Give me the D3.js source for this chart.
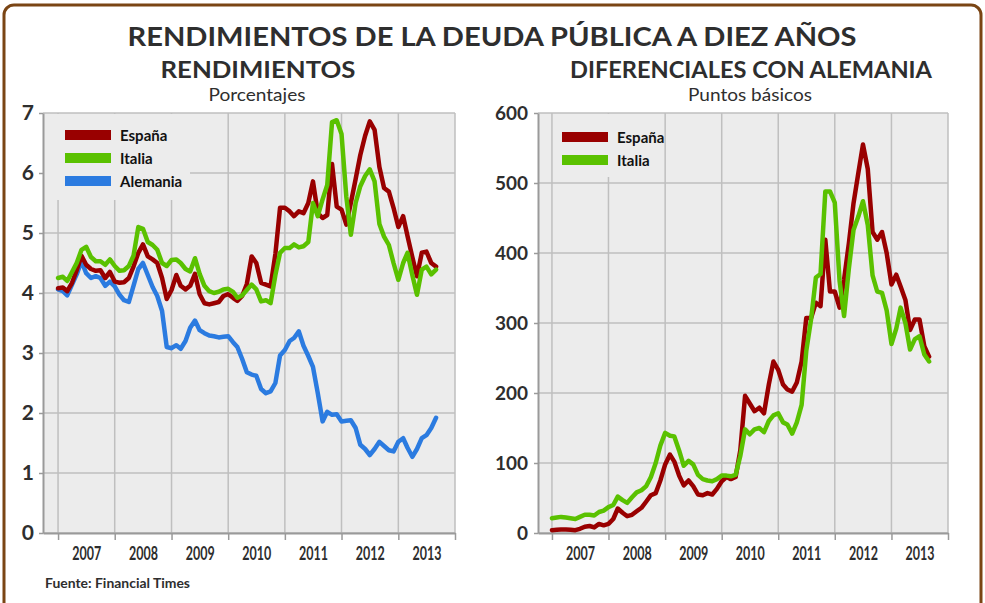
<!DOCTYPE html>
<html>
<head>
<meta charset="utf-8">
<script src="https://cdn.jsdelivr.net/npm/d3@7"></script>
<style>
  body { margin: 0; background: #fff; }
  svg  { display: block; font-family: Lato, "Open Sans", sans-serif; }
</style>
</head>
<body>
<svg id="chart" width="985" height="603"></svg>
<script>
'use strict';

// Monthly observations, Jan 2007 .. Sep 2013 (81 months)
const FIRST_MONTH = new Date(2007, 0, 1);
const N_MONTHS    = 81;

const YEAR_LABELS = ['2007', '2008', '2009', '2010', '2011', '2012', '2013'];
const LEFT_TICKS  = [0, 1, 2, 3, 4, 5, 6, 7];
const RIGHT_TICKS = [0, 100, 200, 300, 400, 500, 600];

// Rendimientos, %
const espanaYield = [
  4.08, 4.09, 4.03, 4.17, 4.38, 4.62, 4.47, 4.40, 4.37, 4.38, 4.25, 4.35,
  4.19, 4.17, 4.18, 4.25, 4.44, 4.67, 4.81, 4.61, 4.56, 4.50, 4.25, 3.90,
  4.05, 4.30, 4.12, 4.06, 4.12, 4.32, 3.98, 3.83, 3.81, 3.83, 3.85, 3.95,
  3.98, 3.92, 3.87, 3.95, 4.15, 4.61, 4.50, 4.17, 4.14, 4.11, 4.65, 5.42,
  5.42, 5.36, 5.28, 5.36, 5.33, 5.50, 5.86, 5.33, 5.25, 5.30, 6.15, 5.44,
  5.39, 5.14, 5.50, 5.90, 6.30, 6.62, 6.86, 6.72, 6.10, 5.75, 5.69, 5.42,
  5.10, 5.28, 4.95, 4.60, 4.28, 4.67, 4.69, 4.50, 4.44
];
const italiaYield = [
  4.25, 4.27, 4.20, 4.35, 4.50, 4.72, 4.77, 4.60, 4.53, 4.53, 4.47, 4.56,
  4.45, 4.37, 4.38, 4.45, 4.62, 5.10, 5.07, 4.85, 4.80, 4.72, 4.50, 4.45,
  4.55, 4.56, 4.50, 4.40, 4.36, 4.58, 4.32, 4.12, 4.03, 4.00, 4.02, 4.06,
  4.07, 4.02, 3.92, 3.96, 4.05, 4.14, 4.06, 3.86, 3.88, 3.83, 4.30, 4.67,
  4.75, 4.75, 4.81, 4.76, 4.78, 4.85, 5.50, 5.28, 5.56, 5.80, 6.85, 6.88,
  6.65, 5.60, 4.97, 5.50, 5.78, 5.95, 6.06, 5.86, 5.15, 4.94, 4.80, 4.50,
  4.22, 4.50, 4.67, 4.30, 3.97, 4.39, 4.44, 4.31, 4.39
];
const alemaniaYield = [
  4.06, 4.03, 3.96, 4.14, 4.31, 4.53, 4.33, 4.25, 4.28, 4.25, 4.12, 4.19,
  4.11, 3.97, 3.88, 3.85, 4.12, 4.40, 4.50, 4.30, 4.10, 3.95, 3.70, 3.10,
  3.08, 3.13, 3.07, 3.20, 3.42, 3.54, 3.38, 3.33, 3.29, 3.28, 3.26, 3.27,
  3.28, 3.18, 3.10, 2.90, 2.68, 2.64, 2.62, 2.40, 2.33, 2.36, 2.50, 2.96,
  3.05, 3.20, 3.25, 3.36, 3.12, 2.95, 2.77, 2.33, 1.86, 2.02, 1.97, 1.98,
  1.86, 1.87, 1.88, 1.75, 1.47, 1.40, 1.30, 1.40, 1.52, 1.45, 1.38, 1.36,
  1.52, 1.58, 1.42, 1.27, 1.40, 1.58, 1.63, 1.75, 1.92
];

// Diferenciales con Alemania, puntos básicos
const espanaSpread = [
    4, 4.5,   5,   5, 4.5,   4,   6,   9,  10,   8,  13,  11,
   13,  20,  35,  29,  24,  26,  31,  36,  45,  54,  57,  75,
   98, 112, 102,  82,  68,  75,  67,  55,  54,  57,  55,  63,
   74,  80,  77,  80, 118, 196, 185, 174, 179, 171, 212, 245,
  233, 212, 205, 202, 215, 245, 307, 307, 329, 324, 419, 345,
  345, 322, 362, 414, 471, 514, 555, 520, 430, 419, 430, 400,
  355, 369, 352, 333, 290, 305, 305, 267, 252
];
const italiaSpread = [
   21,  22,  23,  22,  21,  20,  23,  26,  26,  25,  30,  32,
   37,  40,  52,  47,  43,  51,  58,  61,  67,  80, 100, 125,
  143, 139, 138, 118,  96, 103,  98,  83,  77,  75,  74,  77,
   82,  82,  81,  83, 110, 148, 141, 148, 150, 144, 160, 168,
  171, 158, 155, 142, 158, 183, 260, 305, 365, 370, 488, 488,
  472, 360, 310, 378, 433, 452, 474, 440, 368, 345, 343, 318,
  270, 292, 322, 300, 262, 277, 281, 255, 245
];

const COLORS = {
  espana:   '#990000',
  italia:   '#5ac100',
  alemania: '#2b7be0',
};
const PLOT_BG   = '#ececec';
const GRID      = '#bfbfbf';
const AXIS      = '#9a9a9a';
const TEXT      = '#2e2e2e';

const months     = d3.timeMonth.range(FIRST_MONTH, d3.timeMonth.offset(FIRST_MONTH, N_MONTHS));
const yearStarts = d3.range(2007, 2015).map(y => new Date(y, 0, 1));
const yearMids   = YEAR_LABELS.map(y => new Date(+y, 6, 1));

const svg = d3.select('#chart');

// Frame
svg.append('rect')
  .attr('x', 4).attr('y', 5)
  .attr('width', 977).attr('height', 640)
  .attr('rx', 10)
  .attr('fill', 'none')
  .attr('stroke', '#7a4514')
  .attr('stroke-width', 3);

// Titles
function label(txt, x, y, size, weight, len) {
  svg.append('text')
    .attr('x', x).attr('y', y)
    .attr('text-anchor', 'middle')
    .attr('font-size', size)
    .attr('font-weight', weight)
    .attr('fill', TEXT)
    .attr('textLength', len)
    .attr('lengthAdjust', 'spacingAndGlyphs')
    .text(txt);
}
label('RENDIMIENTOS DE LA DEUDA PÚBLICA A DIEZ AÑOS', 492, 46, 26, 700, 729);
label('RENDIMIENTOS', 258, 78, 22, 700, 195);
label('DIFERENCIALES CON ALEMANIA', 751, 78, 22, 700, 362);
label('Porcentajes', 257, 101, 17, 400, 97);
label('Puntos básicos', 750, 101, 17, 400, 124);

svg.append('text')
  .attr('x', 45).attr('y', 588)
  .attr('font-size', 14).attr('font-weight', 700)
  .attr('fill', TEXT)
  .attr('textLength', 145).attr('lengthAdjust', 'spacingAndGlyphs')
  .text('Fuente: Financial Times');

function panel(cfg) {
  const x = d3.scaleTime().domain(cfg.xDomain).range([cfg.left, cfg.right]);
  const y = d3.scaleLinear().domain([0, d3.max(cfg.yTicks)]).range([533, 113]);
  const g = svg.append('g');

  g.append('rect')
    .attr('x', cfg.left).attr('y', 113)
    .attr('width', cfg.right - cfg.left).attr('height', 420)
    .attr('fill', PLOT_BG);

  // grid
  g.append('g').selectAll('line').data(cfg.yTicks).join('line')
    .attr('x1', cfg.left).attr('x2', cfg.right)
    .attr('y1', d => y(d)).attr('y2', d => y(d))
    .attr('stroke', GRID).attr('stroke-width', 1.5);
  g.append('g').selectAll('line').data(yearStarts).join('line')
    .attr('x1', d => x(d)).attr('x2', d => x(d))
    .attr('y1', 113).attr('y2', 533)
    .attr('stroke', GRID).attr('stroke-width', 1.5);

  // legend (box hides the grid behind it)
  const lg = g.append('g');
  lg.append('rect')
    .attr('x', cfg.legendBox[0]).attr('y', 114)
    .attr('width', cfg.legendBox[1] - cfg.legendBox[0])
    .attr('height', cfg.legendBox[2] - 114)
    .attr('fill', PLOT_BG);
  cfg.series.forEach((s, i) => {
    const cy = cfg.legendY + i * cfg.legendStep;
    lg.append('rect')
      .attr('x', cfg.legendX).attr('y', cy - 5)
      .attr('width', 46).attr('height', 10)
      .attr('fill', COLORS[s.key]);
    lg.append('text')
      .attr('x', cfg.legendX + 55).attr('y', cy + 5.5)
      .attr('font-size', 15).attr('font-weight', 700)
      .attr('fill', '#111')
      .text(s.name);
  });

  // axes
  const yAxis = g.append('g')
    .attr('transform', `translate(${cfg.left},0)`)
    .call(d3.axisLeft(y).tickValues(cfg.yTicks).tickFormat(d3.format('d'))
      .tickSize(4).tickSizeOuter(0).tickPadding(cfg.yPad));
  yAxis.select('.domain').attr('stroke', AXIS).attr('stroke-width', 2);
  yAxis.selectAll('.tick line').attr('stroke', AXIS).attr('stroke-width', 1.5);
  yAxis.selectAll('.tick text')
    .attr('font-size', cfg.yFont).attr('font-weight', 700)
    .attr('font-family', 'Lato, sans-serif')
    .attr('fill', TEXT);

  const xAxis = g.append('g')
    .attr('transform', 'translate(0,533)')
    .call(d3.axisBottom(x).tickValues(yearStarts).tickSize(7).tickSizeOuter(0).tickFormat(''));
  xAxis.select('.domain').attr('stroke', AXIS).attr('stroke-width', 2);
  xAxis.selectAll('.tick line').attr('stroke', AXIS).attr('stroke-width', 1.5);

  const xLab = g.append('g')
    .attr('transform', 'translate(0,533)')
    .call(d3.axisBottom(x).tickValues(yearMids).tickSize(0).tickPadding(14)
      .tickFormat((d, i) => YEAR_LABELS[i]));
  xLab.select('.domain').remove();
  xLab.selectAll('.tick text')
    .attr('font-size', 19).attr('font-weight', 700)
    .attr('font-family', 'Lato, sans-serif')
    .attr('fill', TEXT)
    .attr('textLength', 29).attr('lengthAdjust', 'spacingAndGlyphs');

  // lines
  const line = d3.line()
    .x((d, i) => x(months[i]))
    .y(d => y(d));
  cfg.series.slice().sort((a, b) => a.z - b.z).forEach(s => {
    g.append('path')
      .datum(s.values)
      .attr('d', line)
      .attr('fill', 'none')
      .attr('stroke', COLORS[s.key])
      .attr('stroke-width', 4.5)
      .attr('stroke-linejoin', 'round')
      .attr('stroke-linecap', 'round');
  });
}

panel({
  left: 43, right: 455,
  xDomain: [new Date(2006, 8, 26), new Date(2014, 0, 1)],
  yTicks: LEFT_TICKS, yFont: 21, yPad: 5,
  legendBox: [44, 190, 200], legendX: 65, legendY: 135, legendStep: 23,
  series: [
    { key: 'espana',   name: 'España',   values: espanaYield,   z: 1 },
    { key: 'italia',   name: 'Italia',   values: italiaYield,   z: 2 },
    { key: 'alemania', name: 'Alemania', values: alemaniaYield, z: 0 },
  ],
});

panel({
  left: 538, right: 948,
  xDomain: [new Date(2006, 9, 3), new Date(2014, 0, 1)],
  yTicks: RIGHT_TICKS, yFont: 19, yPad: 6,
  legendBox: [555, 662, 177], legendX: 562, legendY: 137, legendStep: 23,
  series: [
    { key: 'espana', name: 'España', values: espanaSpread, z: 0 },
    { key: 'italia', name: 'Italia', values: italiaSpread, z: 1 },
  ],
});
</script>
</body>
</html>
